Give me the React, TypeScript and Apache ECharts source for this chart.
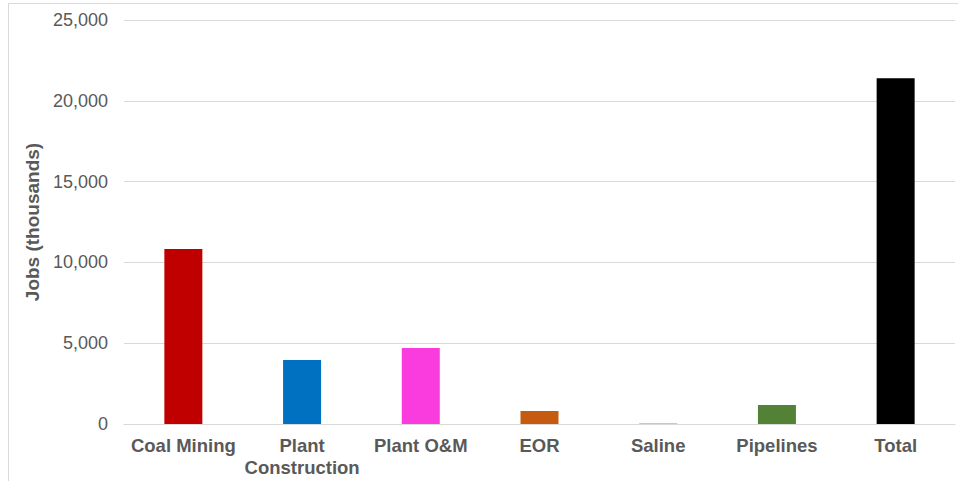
import React, { useEffect, useRef } from "react";
import * as echarts from "echarts";

const categories = ["Coal Mining", "Plant\nConstruction", "Plant O&M", "EOR", "Saline", "Pipelines", "Total"];
const jobs = [10830, 3960, 4700, 800, 40, 1180, 21400];
const barColors = ["#C00000", "#0070C0", "#FA3CDE", "#C55A11", "#BDB5A2", "#538135", "#000000"];
const yTicks = { min: 0, max: 25000, interval: 5000 };
const yAxisName = "Jobs (thousands)";

export default function App() {
  const ref = useRef<HTMLDivElement>(null);
  useEffect(() => {
    if (!ref.current) return;
    const chart = echarts.init(ref.current, null, { renderer: "svg" });
    chart.setOption({
      animation: false,
      backgroundColor: "#ffffff",
      textStyle: { fontFamily: "Liberation Sans, Arial, sans-serif" },
      graphic: [
        {
          type: "polyline",
          shape: { points: [[8.5, 481], [8.5, 3.5], [958, 3.5]] },
          style: { stroke: "#d9d9d9", lineWidth: 1, fill: "none" },
          silent: true,
        },
      ],
      grid: { left: 124, right: 3, top: 20, bottom: 57, containLabel: false },
      xAxis: {
        type: "category",
        data: categories,
        axisLine: { show: true, lineStyle: { color: "#d9d9d9", width: 1 } },
        axisTick: { show: false },
        axisLabel: {
          color: "#595959",
          fontSize: 18.5,
          fontWeight: "bold",
          margin: 10,
          lineHeight: 22,
          interval: 0,
        },
      },
      yAxis: {
        type: "value",
        min: yTicks.min,
        max: yTicks.max,
        interval: yTicks.interval,
        name: yAxisName,
        nameLocation: "middle",
        nameGap: 75,
        nameTextStyle: { color: "#595959", fontSize: 19, fontWeight: "bold" },
        axisLine: { show: false },
        axisTick: { show: false },
        axisLabel: {
          color: "#595959",
          fontSize: 18,
          margin: 16,
          formatter: (v: number) => v.toLocaleString("en-US"),
        },
        splitLine: { lineStyle: { color: "#d9d9d9", width: 1 } },
      },
      series: [
        {
          type: "bar",
          data: jobs.map((v, i) => ({ value: v, itemStyle: { color: barColors[i] } })),
          barWidth: 38,
        },
      ],
    });
    return () => chart.dispose();
  }, []);
  return (
    <div
      ref={ref}
      style={{ position: "absolute", left: 0, top: 0, width: 958, height: 481 }}
    />
  );
}
